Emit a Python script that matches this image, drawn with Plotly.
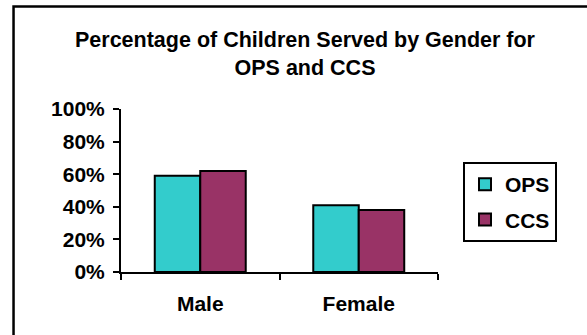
import plotly.graph_objects as go

# Share of children served, by gender, for each program
genders = ["Male", "Female"]
ops_share = [0.59, 0.41]
ccs_share = [0.62, 0.38]
y_ticks = [0, 0.2, 0.4, 0.6, 0.8, 1.0]

FONT = "Liberation Sans, Arial, sans-serif"
SIZE = 21

fig = go.Figure()
fig.add_trace(go.Bar(
    name="<b>OPS</b>", x=genders, y=ops_share, legendgroup="ops",
    marker=dict(color="#33CCCC", line=dict(color="black", width=2)),
))
fig.add_trace(go.Bar(
    name="<b>CCS</b>", x=genders, y=ccs_share, legendgroup="ccs",
    marker=dict(color="#993366", line=dict(color="black", width=2)),
))

# Outer chart frame
fig.add_shape(type="rect", xref="paper", yref="paper",
              x0=-0.339, x1=1.5, y0=-0.45, y1=1.629,
              line=dict(color="black", width=2.5), fillcolor="rgba(0,0,0,0)",
              layer="below")

fig.update_layout(
    width=587, height=335,
    margin=dict(l=121, r=149, t=109, b=63),
    paper_bgcolor="white", plot_bgcolor="white",
    font=dict(family=FONT, size=SIZE, color="black"),
    title=dict(
        text="<b>Percentage of Children Served by Gender for<br>OPS and CCS</b>",
        x=305 / 587, xref="container", xanchor="center",
        y=1 - 47 / 335, yref="container", yanchor="middle",
        font=dict(family=FONT, size=21.5, color="black"),
    ),
    barmode="group", bargap=0.426, bargroupgap=0,
    showlegend=True,
    legend=dict(
        x=(463 - 121) / 317, y=(272 - 162) / 163,
        xanchor="left", yanchor="top",
        bordercolor="black", borderwidth=2, bgcolor="white",
        font=dict(family=FONT, size=SIZE, color="black"),
        tracegroupgap=5, traceorder="grouped",
    ),
    xaxis=dict(
        showline=True, linecolor="black", linewidth=2,
        ticks="outside", tickson="boundaries", ticklen=6, tickwidth=2,
        tickcolor="black", showgrid=False,
        tickvals=genders, ticktext=[f"<b>{g}</b>" for g in genders],
        tickfont=dict(family=FONT, size=SIZE, color="black"),
        ticklabelstandoff=12,
    ),
    yaxis=dict(
        range=[0, 1], tickvals=y_ticks,
        ticktext=[f"<b>{round(v * 100)}%</b>" for v in y_ticks],
        showline=True, linecolor="black", linewidth=2,
        ticks="outside", ticklen=6, tickwidth=2, tickcolor="black",
        showgrid=False, zeroline=False,
        tickfont=dict(family=FONT, size=SIZE, color="black"),
        ticklabelstandoff=4,
    ),
)

fig.write_html("out.html")
